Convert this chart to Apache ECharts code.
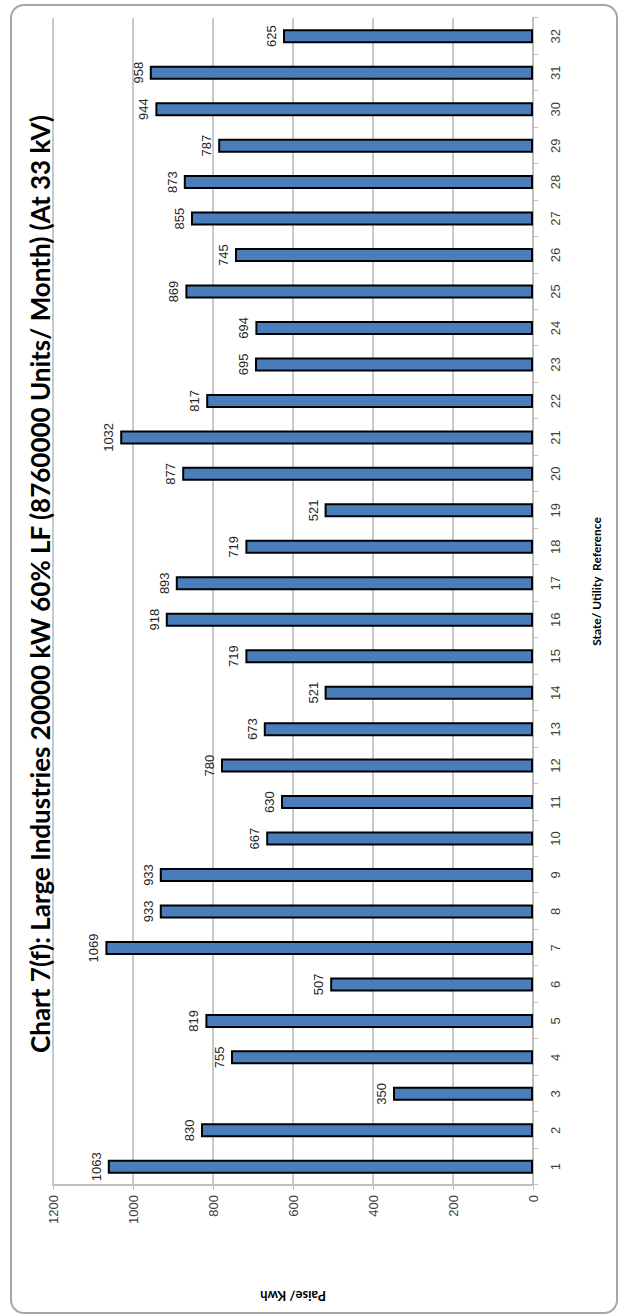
<!DOCTYPE html>
<html>
<head>
<meta charset="utf-8">
<script src="https://cdn.jsdelivr.net/npm/echarts@6/dist/echarts.min.js"></script>
<style>
  html, body { margin: 0; padding: 0; background: #fff; }
  body { width: 621px; height: 1315px; position: relative; overflow: hidden; }
  /* chart is laid out landscape, then turned a quarter turn counter-clockwise */
  #chart {
    position: absolute; left: 0; top: 0;
    width: 1315px; height: 621px;
    transform-origin: 0 0;
    transform: translate(0, 1315px) rotate(-90deg);
  }
  #frame {
    position: absolute; left: 10px; top: 4px;
    width: 604px; height: 1306px;
    border: 2px solid #a6a6a6; border-radius: 14px;
    pointer-events: none;
  }
</style>
</head>
<body>
<div id="chart"></div>
<div id="frame"></div>
<script>
const titleText = 'Chart 7(f): Large Industries 20000 kW 60% LF (8760000 Units/ Month) (At 33 kV)'
const categories = ['1', '2', '3', '4', '5', '6', '7', '8', '9', '10', '11', '12', '13', '14', '15', '16',
  '17', '18', '19', '20', '21', '22', '23', '24', '25', '26', '27', '28', '29', '30', '31', '32']
const values = [1063, 830, 350, 755, 819, 507, 1069, 933, 933, 667, 630, 780, 673, 521, 719, 918,
  893, 719, 521, 877, 1032, 817, 695, 694, 869, 745, 855, 873, 787, 944, 958, 625]
const valueMin = 0
const valueMax = 1200
const valueStep = 200

const chart = echarts.init(document.getElementById('chart'), null, { renderer: 'svg' })

chart.setOption({
  animation: false,
  title: {
    text: titleText,
    left: 726,
    top: 22,
    textAlign: 'center',
    textStyle: { fontFamily: 'Lato', fontWeight: 'bold', fontSize: 26, color: '#000' },
  },
  grid: { left: 130, right: 18, top: 53, bottom: 88 },
  xAxis: {
    type: 'category',
    data: categories,
    name: 'State/ Utility  Reference',
    nameLocation: 'middle',
    nameGap: 57,
    nameTextStyle: { fontFamily: 'Lato', fontWeight: 'bold', fontSize: 12, color: '#000', padding: [0, 0, 0, 40] },
    axisLine: { lineStyle: { color: '#bfbfbf', width: 2 } },
    axisTick: { show: true, length: 5, lineStyle: { color: '#bfbfbf', width: 1 } },
    axisLabel: { color: '#404040', fontFamily: 'Liberation Sans', fontSize: 13, margin: 16 },
  },
  yAxis: {
    type: 'value',
    min: valueMin,
    max: valueMax,
    interval: valueStep,
    name: 'Paise/ Kwh',
    nameLocation: 'middle',
    nameGap: 104,
    nameTextStyle: { fontFamily: 'Lato', fontWeight: 'bold', fontSize: 13, color: '#000' },
    axisLine: { show: true, lineStyle: { color: '#bfbfbf', width: 2 } },
    axisTick: { show: true, length: 5, lineStyle: { color: '#bfbfbf', width: 1 } },
    axisLabel: { color: '#404040', fontFamily: 'Liberation Sans', fontSize: 13, margin: 10, formatter: v => String(v) },
    splitLine: { lineStyle: { color: '#c8c8c8', width: 2 } },
  },
  series: [{
    type: 'bar',
    data: values,
    barWidth: 14,
    itemStyle: { color: '#4a7ebb', borderColor: '#000', borderWidth: 2 },
    label: {
      show: true,
      position: 'top',
      distance: 5,
      color: '#262626',
      fontFamily: 'Liberation Sans',
      fontSize: 13,
    },
  }],
})
</script>
</body>
</html>
